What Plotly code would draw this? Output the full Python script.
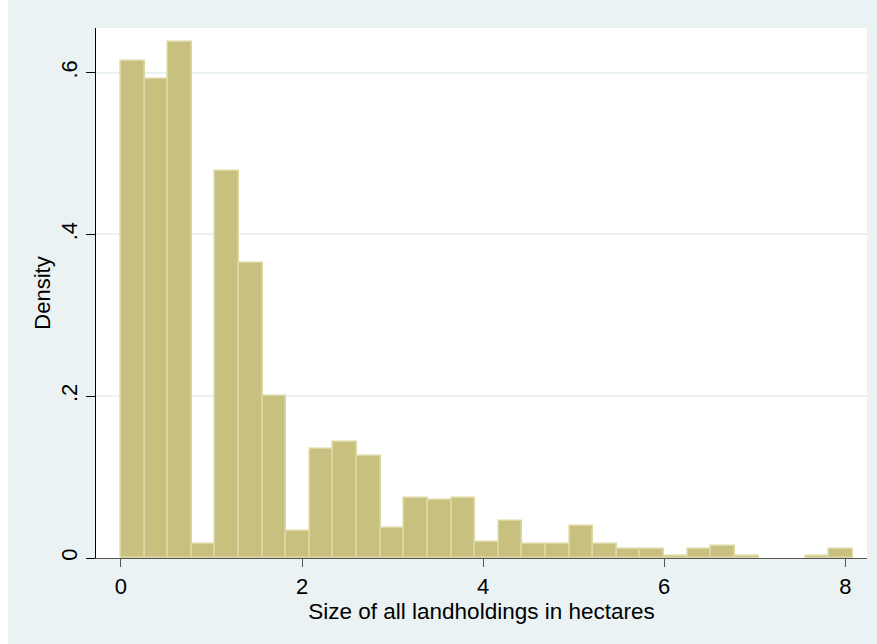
import plotly.graph_objects as go

# Histogram of landholding sizes (density scale), 31 equal-width bins starting at 0
bin_start = 0.0
bin_width = 0.2608
density = [
    0.614, 0.592, 0.638, 0.0167, 0.479, 0.365, 0.2007, 0.0336,
    0.135, 0.1435, 0.126, 0.0373, 0.0743, 0.0719, 0.0743, 0.020,
    0.046, 0.0167, 0.0167, 0.0398, 0.0167, 0.0114, 0.0114, 0.003,
    0.0114, 0.0143, 0.003, 0.0, 0.0, 0.003, 0.0114,
]
x_ticks = [0, 2, 4, 6, 8]
y_ticks = [0, 0.2, 0.4, 0.6]
y_tick_labels = ["0", ".2", ".4", ".6"]

centers = [bin_start + (i + 0.5) * bin_width for i in range(len(density))]
# empty bins get no outline
outline_w = [1.6 if d > 0 else 0 for d in density]

BG = "#eaf2f3"
FONT = "Liberation Sans, Arial, Helvetica, sans-serif"

fig = go.Figure(
    go.Bar(
        x=centers,
        y=density,
        width=bin_width,
        marker=dict(color="#c8c07e", line=dict(color="#dcd7a2", width=outline_w)),
        hoverinfo="skip",
    )
)

fig.update_layout(
    width=877,
    height=644,
    margin=dict(l=96, r=10, t=28, b=86),
    paper_bgcolor=BG,
    plot_bgcolor="white",
    showlegend=False,
    bargap=0,
    font=dict(family=FONT, size=22, color="black"),
    shapes=[
        dict(type="rect", xref="paper", yref="paper", x0=-96 / 771, x1=-88 / 771,
             y0=-1, y1=2, fillcolor="white", line=dict(width=0), layer="below"),
    ],
)

fig.update_xaxes(
    range=[-0.276, 8.24],
    tickvals=x_ticks,
    ticks="outside",
    ticklen=8,
    tickwidth=1.3,
    tickcolor="#555555",
    showline=True,
    linecolor="#555555",
    linewidth=1.3,
    showgrid=False,
    zeroline=False,
    tickfont=dict(size=22),
    title=dict(text="Size of all landholdings in hectares", standoff=0, font=dict(size=22.5)),
)

fig.update_yaxes(
    range=[0, 0.6552],
    tickvals=y_ticks,
    ticktext=y_tick_labels,
    tickangle=-90,
    ticks="outside",
    ticklen=9,
    tickwidth=1.3,
    tickcolor="black",
    showline=True,
    linecolor="black",
    linewidth=1.3,
    showgrid=True,
    gridcolor=BG,
    gridwidth=2,
    zeroline=False,
    tickfont=dict(size=22),
    title=dict(text="Density", standoff=0, font=dict(size=22)),
)

fig.write_html("out.html")
